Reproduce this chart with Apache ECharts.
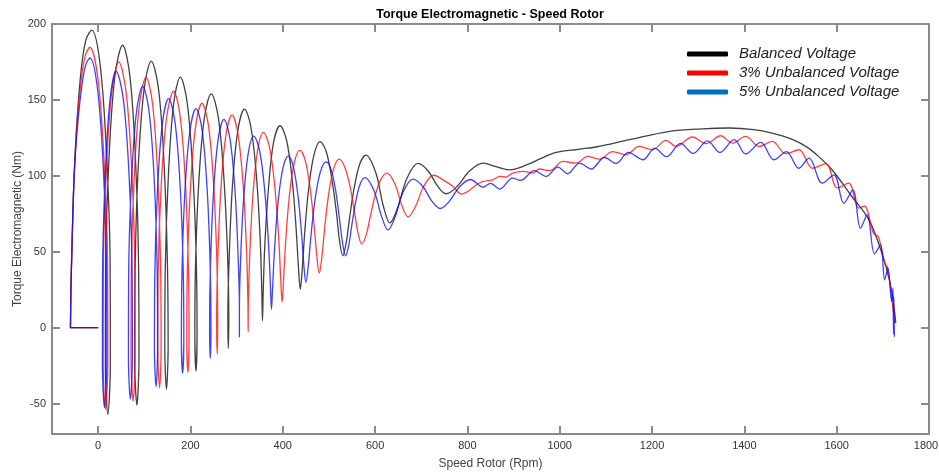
<!DOCTYPE html>
<html>
<head>
<meta charset="utf-8">
<title>Torque Electromagnetic - Speed Rotor</title>
<script src="https://cdn.jsdelivr.net/npm/echarts@6/dist/echarts.min.js"></script>
<style>
  html, body { margin: 0; padding: 0; background: #fff; }
  #chart { width: 939px; height: 473px; }
</style>
</head>
<body>
<div id="chart"></div>
<script>
// tick labels
var xTicks = [0, 200, 400, 600, 800, 1000, 1200, 1400, 1600, 1800];
var yTicks = [-50, 0, 50, 100, 150, 200];
var seriesNames = ['Balanced Voltage', '3% Unbalanced Voltage', '5% Unbalanced Voltage'];

// [speed (rpm), torque (Nm)]
var balancedData = [
  [0, 0], [-60, 0], [-59, 25], [-57, 50], [-52, 100], [-45, 140], [-36, 172], [-26, 190], [-14, 196],
  [4, 174], [18, 115], [26, 41], [26.5, -24], [21, -57],
  [15.6, -25], [16, 37], [23, 108.5], [36, 165], [53, 186],
  [69, 165], [81, 110], [87.6, 41], [88.4, -20], [84, -51],
  [79, -21], [80, 36.5], [86.4, 103], [99, 155.7], [115, 175.5],
  [131, 156.6], [143, 106.6], [150, 43], [151.6, -12], [148, -40.6],
  [144.4, -13.6], [145.4, 39], [152, 99.4], [163.4, 147], [178, 165],
  [193, 148], [205, 103], [212.4, 46], [214.3, -3], [212, -28.6],
  [209.5, -4.6], [211, 42], [218, 95.7], [230, 138], [245, 154],
  [260, 139], [272, 100.5], [280, 51], [283, 8.4], [282, -13.6],
  [281, 7], [284, 47], [291, 93.7], [302.7, 130], [317, 144],
  [331, 132], [343, 99.5], [351, 58.5], [354.6, 23], [356, 4.6],
  [357.4, 21.5], [361, 54], [369, 92], [380, 122], [394, 133],
  [408, 123.6], [420, 98.6], [428.5, 67], [434, 39.5], [438, 25.3],
  [442, 38], [447.6, 63], [456, 91.5], [467.7, 114], [481, 122.5],
  [494, 116], [506, 98.5], [516, 76.4], [523, 57], [530, 47.4],
  [537.4, 56], [545, 73], [555, 92.5], [567, 108], [580, 113.7],
  [601, 102.5], [618, 80], [632, 69],
  [648.5, 78.7], [669, 98.4], [693, 108.2],
  [715, 103.2], [735.5, 93.2], [754, 88.2],
  [778, 93.2], [805, 103.3], [834, 108.4],
  [862, 106], [891, 104],
  [935, 108], [956, 111], [992, 115.4], [1040, 117.5], [1079, 119], [1151, 123.8],
  [1238, 129.3], [1309, 131], [1367, 131.5], [1420, 130.5], [1460, 128.2], [1500, 124.5],
  [1533, 119.4], [1560, 113], [1590, 104], [1633, 86.4], [1670, 71], [1698, 49],
  [1716, 29], [1724, 14], [1728, 3]
];

var unbalanced3Data = [
  [0, 0], [-60, 0], [-59, 25], [-57, 50], [-52, 100], [-45, 138], [-36, 165], [-28, 179], [-18, 184.7],
  [-0.5, 164], [13, 108.6], [20.5, 38], [21, -22.4], [15.8, -53.8],
  [11, -23.7], [11.2, 34.6], [17.5, 102], [29.3, 155], [44.6, 175],
  [60.4, 155.5], [72.7, 103.8], [79.4, 38], [80, -19], [75.7, -48.3],
  [71.3, -20], [71.8, 34], [77.8, 97], [89.2, 146.3], [103.8, 165],
  [118, 147], [129, 99.7], [135.3, 39.5], [136.4, -12.7], [133, -39.6],
  [129.2, -14], [130, 36], [136.6, 93.4], [148.5, 138.6], [163.5, 155.7],
  [177.6, 139.5], [188.8, 96.7], [195.3, 42], [197, -5], [194.5, -29.4],
  [192, -6], [193.4, 39], [199.8, 91.3], [211, 132.3], [225, 147.8],
  [238.8, 133.4], [250, 95], [257, 46.5], [259, 4.4], [258, -17.3],
  [256.7, 3.4], [259, 43.5], [265.6, 89.8], [276.5, 126.2], [290, 140],
  [303, 127.5], [314, 94.5], [321.3, 52.5], [324.5, 16], [325, -2.6],
  [325.4, 14.7], [328.4, 48], [335.2, 86.7], [345.5, 117], [358, 128.6],
  [371.3, 118.8], [382.7, 93], [391, 60], [395.6, 31.4], [398.5, 16.7],
  [401.4, 30], [406, 55.4], [413.7, 85], [424.4, 108], [437, 116.8],
  [449, 109.7], [459.6, 91], [468, 67], [474, 46.5], [479, 35.9],
  [484.4, 45.8], [490.5, 65], [499, 87], [510, 104.4], [522, 111],
  [534, 106], [545.6, 93], [555, 76.7], [563, 62.5], [571, 55.1],
  [580.5, 61], [589.4, 73], [600, 87], [612.5, 97.7], [626, 101.8],
  [643, 94.6], [658.5, 80], [671.5, 73],
  [687.5, 79.8], [706, 93.5], [727, 100.4],
  [754, 96], [769, 93], [787, 88], [801, 89.7], [819, 94], [834, 96.3], [855, 97.4],
  [870, 99.6], [884, 99.2], [898, 101.8], [920, 103], [941.6, 101.8], [956, 104.5],
  [978, 103.4], [1007, 109.5], [1035.5, 108.4], [1061, 112.8], [1086, 111], [1114.6, 116],
  [1143.6, 113.9], [1172, 119.4], [1201, 117.2], [1230, 123.4], [1252, 119.4], [1287.5, 125.6],
  [1316.5, 121.2], [1349, 126.4], [1374, 121.6], [1403, 126], [1432, 119.4], [1460.6, 122.7],
  [1489.6, 114.6], [1518.6, 117.2], [1547.5, 105], [1576.5, 108], [1601.6, 92], [1626, 95.2],
  [1647.5, 78.8], [1660, 80], [1680, 62], [1690, 60], [1705, 42], [1710, 40],
  [1717, 25], [1722, 12], [1726, 3]
];

var unbalanced5Data = [
  [0, 0], [-60, 0], [-59, 25], [-57, 50], [-52, 100], [-44, 135], [-35, 160], [-27, 173], [-18, 177.6],
  [-1.5, 157.5], [11.3, 104], [18, 36.4], [18.6, -22.2], [13.6, -52.5],
  [9.2, -23.4], [9.5, 33], [15, 98.3], [25.5, 149.5], [39, 168.9],
  [54.7, 150], [67, 100], [73.6, 36.5], [74.2, -18.6], [69.8, -47],
  [65.6, -20], [66, 32.6], [71.7, 93.3], [82.6, 141], [96.5, 159],
  [110.6, 141.7], [121.7, 95.9], [127.8, 37.6], [128.8, -12.9], [125.4, -38.9],
  [121.9, -14], [122.7, 34.4], [128.5, 90.3], [139.1, 134.2], [152.6, 150.8],
  [166.6, 135], [177.7, 93.1], [184.1, 39.9], [185.6, -6.2], [183, -30],
  [180.3, -7], [181.7, 37.4], [187.8, 88.7], [198.5, 129], [212, 144.3],
  [225.3, 130], [236, 91.8], [242.5, 43.4], [244.5, 1.4], [243, -20.2],
  [241.4, 0.5], [243.3, 40.6], [249.5, 87], [259.7, 123.4], [272.5, 137.2],
  [285.5, 124.6], [296.2, 91.4], [303, 49], [306, 12.6], [306, -6.3],
  [306, 11], [308.6, 45], [315, 84], [325, 114.6], [337, 126.2],
  [350, 116.2], [361, 89.8], [369, 56], [373.3, 27], [375.5, 12],
  [377.8, 25.3], [382, 51], [389.3, 81], [399.7, 104.3], [412, 113.2],
  [423, 105.9], [433, 86.6], [440.7, 62], [445.8, 40.7], [450, 29.7],
  [455, 40], [461, 60.4], [469.7, 83.8], [481, 102.2], [494, 109.2],
  [505, 103.8], [515, 89.5], [523, 71.2], [529.7, 55.4], [536, 47.3],
  [542.7, 54], [549.4, 67.2], [557.6, 82.4], [567.3, 94.3], [578, 98.8],
  [597.6, 90.2], [614.3, 73], [628, 64.4],
  [643, 72.7], [661, 89.5], [682, 97.9],
  [703.5, 93], [723, 83.3], [741, 78.5],
  [760.6, 83.2], [782.6, 92.7], [806.5, 97.6],
  [834, 92.5], [850, 95], [870, 91.3], [898, 98.5], [915, 97], [945, 103.5],
  [970.6, 99.6], [996, 105.8], [1017, 101.4], [1043, 108.4], [1068, 104.5], [1097, 112.1],
  [1122, 108.2], [1149, 115.5], [1180, 110.6], [1206, 118.3], [1231, 112.6], [1262, 121.4],
  [1289, 114.8], [1320, 123], [1347, 115.4], [1378, 123.8], [1403, 114.4], [1435.5, 122],
  [1464, 110.6], [1491, 116], [1518, 105], [1540, 111.7], [1569, 95.2], [1594, 100.7],
  [1615.5, 82], [1635, 90.8], [1651.5, 65.6], [1666, 74.3], [1682, 48.6], [1695, 54.5],
  [1704, 31.5], [1711, 39.2], [1719, 17.2], [1722, 26], [1723, -4], [1724, 20],
  [1725, -6], [1723, 12], [1725, -5], [1724, 6]
];

var lineColors = ['#111111', '#ff1010', '#1010ff'];
var legendColors = ['#000000', '#ff0000', '#0070c0'];

var chart = echarts.init(document.getElementById('chart'), null, { renderer: 'canvas' });

var axisGray = '#8a8a8a';
var labelFont = 'Liberation Sans, Arial, sans-serif';

function boxAxis(pos, isX, show) {
  var ax = {
    type: 'value',
    position: pos,
    min: isX ? -100 : -70,
    max: isX ? 1800 : 200,
    axisLine: { show: true, onZero: false, lineStyle: { color: axisGray, width: 2 } },
    axisTick: { show: true, inside: true, length: 8, lineStyle: { color: axisGray, width: 2 },
      customValues: isX ? xTicks : yTicks },
    axisLabel: { show: show, color: '#333', fontSize: 11, fontFamily: labelFont, margin: 6,
      customValues: isX ? xTicks : yTicks,
      // keep the last x label inside the canvas
      formatter: function (v) { return (isX && v === 1800) ? '{e|' + v + '}' : String(v); },
      rich: { e: { color: '#333', fontSize: 11, fontFamily: labelFont, padding: [0, 6, 0, 0] } } },
    splitLine: { show: false }
  };
  return ax;
}

var xBottom = boxAxis('bottom', true, true);
xBottom.name = 'Speed Rotor (Rpm)';
xBottom.nameLocation = 'middle';
xBottom.nameGap = 24;
xBottom.nameTextStyle = { color: '#444', fontSize: 12, fontFamily: labelFont };

var yLeft = boxAxis('left', false, true);
yLeft.name = 'Torque Electromagnetic (Nm)';
yLeft.nameLocation = 'middle';
yLeft.nameGap = 28;
yLeft.nameMoveOverlap = false;
yLeft.nameTextStyle = { color: '#444', fontSize: 12, fontFamily: labelFont };

var option = {
  animation: false,
  backgroundColor: '#ffffff',
  title: {
    text: 'Torque Electromagnetic - Speed Rotor',
    left: 485, top: 3, textAlign: 'center',
    textStyle: { fontSize: 12.5, fontWeight: 'bold', color: '#000', fontFamily: labelFont }
  },
  grid: { left: 52, right: 10, top: 24, bottom: 39, containLabel: false, outerBoundsMode: 'none' },
  legend: {
    orient: 'vertical', left: 682, top: 41,
    itemWidth: 41, itemHeight: 5, itemGap: 3,
    icon: 'roundRect',
    textStyle: { fontSize: 15, fontStyle: 'italic', color: '#222', fontFamily: labelFont,
      lineHeight: 16, padding: [0, 0, 0, 6] },
    data: seriesNames.map(function (n, i) {
      return { name: n, itemStyle: { color: legendColors[i], opacity: 1 } };
    })
  },
  xAxis: [xBottom, boxAxis('top', true, false)],
  yAxis: [yLeft, boxAxis('right', false, false)],
  series: [balancedData, unbalanced3Data, unbalanced5Data].map(function (d, i) {
    return {
      name: seriesNames[i],
      type: 'line',
      data: d,
      xAxisIndex: 0,
      yAxisIndex: 0,
      showSymbol: false,
      symbol: 'none',
      smooth: 0.35,
      lineStyle: { color: lineColors[i], width: 1.3, opacity: 0.8 },
      itemStyle: { color: lineColors[i] },
      z: 2 + i
    };
  })
};

chart.setOption(option);
</script>
</body>
</html>
